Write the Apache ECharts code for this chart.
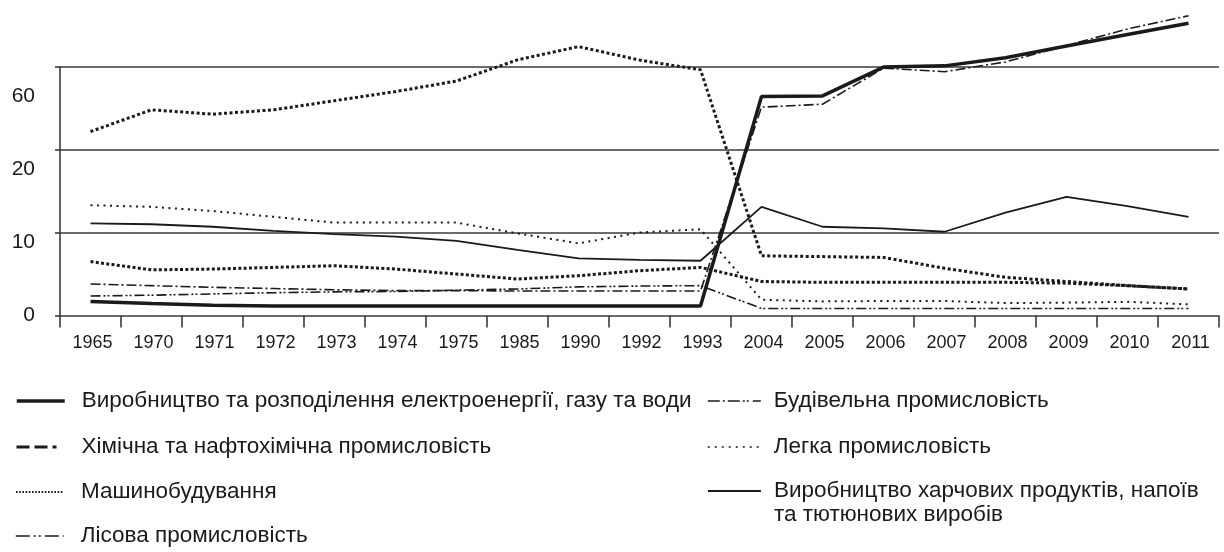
<!DOCTYPE html>
<html>
<head>
<meta charset="utf-8">
<script src="https://cdn.jsdelivr.net/npm/echarts@6/dist/echarts.min.js"></script>
<style>html,body{margin:0;padding:0;background:#fff}#c{width:1224px;height:552px}</style>
</head>
<body>
<div id="c"></div>
<script>
// Categories (years)
const categories = ['1965','1970','1971','1972','1973','1974','1975','1985','1990','1992','1993','2004','2005','2006','2007','2008','2009','2010','2011'];

// Series values
const electricity  = [1.7,1.45,1.25,1.15,1.15,1.15,1.15,1.15,1.15,1.15,1.15,45.6,45.9,59.8,60.4,64.3,70.0,75.5,81.0];
const chemical     = [6.5,5.5,5.6,5.8,6.0,5.6,5.0,4.4,4.8,5.4,5.8,4.1,4.0,4.0,4.0,4.0,3.9,3.6,3.2];
const machinery    = [28.7,39.2,37.1,39.2,43.6,48.0,53.1,63.3,69.7,63.2,58.5,7.2,7.1,7.0,5.7,4.6,4.1,3.6,3.2];
const forestry     = [2.35,2.45,2.6,2.75,2.85,2.9,3.05,3.2,3.45,3.55,3.6,0.85,0.85,0.85,0.85,0.85,0.85,0.85,0.85];
const construction = [3.8,3.6,3.4,3.25,3.1,3.0,3.0,2.95,2.95,2.95,2.95,40.5,41.9,59.3,57.6,62.3,70.2,78.2,84.6];
const light        = [13.3,13.1,12.6,11.9,11.2,11.2,11.2,9.9,8.7,10.0,10.4,1.9,1.7,1.75,1.75,1.5,1.55,1.65,1.35];
const food         = [11.1,11.0,10.7,10.2,9.8,9.5,9.0,7.9,6.9,6.7,6.6,13.1,10.7,10.5,10.1,12.4,14.3,13.2,11.9];

// Tick labels of the (broken) value axis
const yTickLabels = ['0','10','20','60'];

const names = {
  el: 'Виробництво та розподілення електроенергії, газу та води',
  ch: 'Хімічна та нафтохімічна промисловість',
  ma: 'Машинобудування',
  fo: 'Лісова промисловість',
  co: 'Будівельна промисловість',
  li: 'Легка промисловість',
  fd: 'Виробництво харчових продуктів, напоїв та тютюнових виробів'
};

// The original axis is broken: 0–10–20 are evenly spaced, then 20–60 is compressed 4x.
function toAxis(v){ return v <= 20 ? v : 20 + (v - 20) / 4; }

const FONT = 'Liberation Sans';
const INK = '#1a1a1a';
const GRID = '#3a3a3a';

function line(name, data, width, type){
  return {
    name, type:'line', data: data.map(toAxis), symbol:'none', clip:false,
    lineStyle:{color:INK, width, type, cap:'butt'}, itemStyle:{color:INK},
    emphasis:{disabled:true}, animation:false
  };
}

const series = [
  line(names.ma, machinery, 3, [3,2.5]),
  line(names.ch, chemical, 3, [3,2.3]),
  line(names.li, light, 2, [2,4.5]),
  line(names.fo, forestry, 1.6, [10,3,2,2,2,3]),
  line(names.co, construction, 1.6, [10,3,2,3]),
  line(names.fd, food, 1.8, 'solid'),
  line(names.el, electricity, 3.5, 'solid')
];

function lg(name, left, top, iconW, lineStyle, textPadLeft){
  return {
    data:[{name, lineStyle:Object.assign({color:INK, cap:'butt'}, lineStyle), itemStyle:{color:'rgba(0,0,0,0)', borderWidth:0, opacity:0}}],
    left, top, padding:0, itemGap:0, itemWidth:iconW, itemHeight:14,
    selectedMode:false,
    itemStyle:{color:'rgba(0,0,0,0)', borderWidth:0, opacity:0},
    // food label: two lines, first line aligned with the icon (blank line above balances the block)
    formatter: n => n === names.fd ? ' \nВиробництво харчових продуктів, напоїв\nта тютюнових виробів' : n,
    textStyle:{fontFamily:FONT, fontSize:22.5, color:INK, lineHeight:24, padding:[0,0,0,textPadLeft]}
  };
}

const legends = [
  lg(names.el, 15, 389, 48, {width:3.5, type:'solid'}, 12),
  lg(names.ch, 15, 435, 48, {width:3, type:[13,5,13,5,4,8]}, 12),
  lg(names.ma, 15, 480, 48, {width:2, type:[1.6,1.6]}, 12),
  lg(names.fo, 15, 524, 48, {width:1.6, type:[14,4,2,3,2,4]}, 12),
  lg(names.co, 707, 389, 53, {width:1.6, type:[12,3,2,3,12,3,2,2,2,4]}, 8),
  lg(names.li, 707, 435, 53, {width:1.5, type:[2,5]}, 8),
  lg(names.fd, 707, 455, 53, {width:1.8, type:'solid'}, 8)
];

const chart = echarts.init(document.getElementById('c'), null, {renderer:'canvas'});
chart.setOption({
  backgroundColor:'#fff',
  animation:false,
  grid:{left:60, right:5, top:66.7, bottom:236.5, containLabel:false},
  xAxis:{
    type:'category', data:categories, boundaryGap:true, offset:4,
    axisLine:{show:false},
    axisTick:{show:true, interval:0, length:12, lineStyle:{color:GRID, width:1.6}},
    axisLabel:{interval:0, margin:15, fontFamily:FONT, fontSize:18, color:INK, padding:[0,0,0,4]},
    splitLine:{show:false}
  },
  yAxis:[{
    type:'value', min:0, max:30, interval:10, position:'left',
    axisLine:{show:true, lineStyle:{color:GRID, width:1.6}},
    axisTick:{show:true, length:5, lineStyle:{color:GRID, width:1.6}},
    axisLabel:{show:false},
    splitLine:{show:true, lineStyle:{color:GRID, width:1.6}}
  },{
    type:'value', min:0, max:30, interval:8.8, position:'left',
    axisLine:{show:false}, axisTick:{show:false}, splitLine:{show:false},
    axisLabel:{margin:25, fontFamily:FONT, fontSize:21, color:INK,
      formatter: v => { const i = Math.round(v/8.8); return Math.abs(v - i*8.8) < 0.01 && i < yTickLabels.length ? yTickLabels[i] : ''; }}
  }],
  legend: legends,
  series
});
</script>
</body>
</html>
